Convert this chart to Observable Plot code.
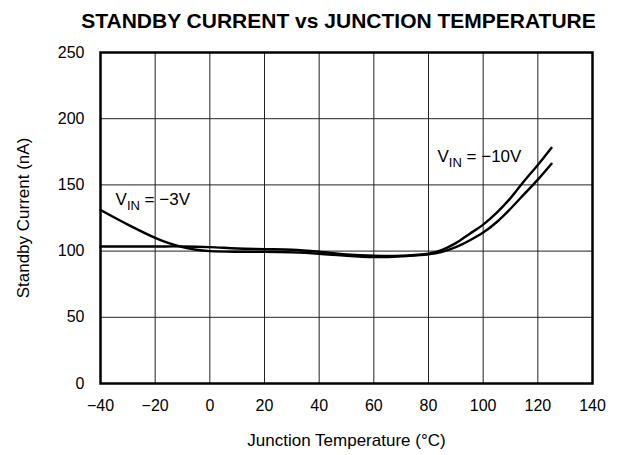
<!DOCTYPE html>
<html>
<head>
<meta charset="utf-8">
<script src="https://cdn.jsdelivr.net/npm/d3@7"></script>
<script src="https://cdn.jsdelivr.net/npm/@observablehq/plot@0.6"></script>
<style>
  html, body { margin: 0; padding: 0; background: #fff; }
  #title { width: 617px; height: 40px; box-sizing: border-box; padding-left: 60px; padding-top: 9px;
           text-align: center; font: bold 21px/24px "Liberation Sans", Arial, sans-serif; color: #000; white-space: nowrap; }
</style>
</head>
<body>
<div id="title">STANDBY CURRENT vs JUNCTION TEMPERATURE</div>
<div id="chart"></div>
<script>
const xTicks = [-40, -20, 0, 20, 40, 60, 80, 100, 120, 140];
const yTicks = [0, 50, 100, 150, 200, 250];

const tempVin3 = [-40, -30, -20, -15, -10, -5, 0, 10, 20, 30, 40, 50, 60, 65, 70, 80, 85, 90, 95, 100, 105, 110, 115, 120, 125];
const currVin3 = [131, 120, 110, 106, 103, 101, 100, 99.5, 99.5, 99, 98, 96.5, 95.5, 95.5, 96, 97.5, 99.5, 103, 108, 114, 122, 132, 143, 154, 166];

const tempVin10 = [-40, -20, -10, 0, 10, 20, 30, 40, 50, 60, 70, 80, 85, 90, 95, 100, 105, 110, 115, 120, 125];
const currVin10 = [103.5, 103.5, 103.5, 103, 102, 101.5, 101, 99.5, 97.5, 96.5, 96.5, 98, 101, 106, 113, 120, 129, 140, 153, 165, 178];

const labelText = ["V_IN = \u22123V", "V_IN = \u221210V"];
const labelX = [-34.5, 83.3];
const labelY = [139, 171.5];

const s3 = tempVin3.map((t, i) => ({t, c: currVin3[i]}));
const s10 = tempVin10.map((t, i) => ({t, c: currVin10[i]}));
const labels = labelText.map((s, i) => ({s, x: labelX[i], y: labelY[i]}));

const chart = Plot.plot({
  width: 617,
  height: 415,
  marginLeft: 100,
  marginRight: 25,
  marginTop: 12,
  marginBottom: 72,
  style: {fontFamily: "'Liberation Sans', Arial, sans-serif", fontSize: "17px", color: "#000", background: "#fff"},
  x: {domain: [-40, 140]},
  y: {domain: [0, 250]},
  marks: [
    Plot.gridX(xTicks, {stroke: "#222", strokeOpacity: 1, strokeWidth: 1}),
    Plot.gridY(yTicks, {stroke: "#222", strokeOpacity: 1, strokeWidth: 1}),
    Plot.line(s3, {x: "t", y: "c", stroke: "#000", strokeWidth: 2.4, curve: "catmull-rom"}),
    Plot.line(s10, {x: "t", y: "c", stroke: "#000", strokeWidth: 2.4, curve: "catmull-rom"}),
    Plot.frame({stroke: "#000", strokeWidth: 2.5}),
    Plot.axisX(xTicks, {tickSize: 0, tickPadding: 16, fontSize: 16, label: null}),
    Plot.axisY(yTicks, {tickSize: 0, tickPadding: 16, fontSize: 16, label: null}),
    Plot.axisX({tickSize: 0, ticks: [], label: "Junction Temperature (°C)", labelAnchor: "center", labelOffset: 62, labelArrow: "none", fontSize: 17}),
    Plot.axisY({tickSize: 0, ticks: [], label: "Standby Current (nA)", labelAnchor: "center", labelOffset: 84, labelArrow: "none", fontSize: 17}),
    Plot.text(labels, {x: "x", y: "y", text: "s", textAnchor: "start", fontSize: 17, fill: "#000", className: "vin"})
  ]
});
document.getElementById("chart").appendChild(chart);

// render subscripts in V_IN labels
chart.querySelectorAll("g.vin text").forEach(t => {
  const s = t.textContent;
  const m = s.match(/^V_IN(.*)$/);
  if (!m) return;
  while (t.firstChild) t.removeChild(t.firstChild);
  const ns = "http://www.w3.org/2000/svg";
  const a = document.createElementNS(ns, "tspan"); a.textContent = "V";
  const b = document.createElementNS(ns, "tspan"); b.textContent = "IN";
  b.setAttribute("font-size", "13"); b.setAttribute("dy", "5");
  const c = document.createElementNS(ns, "tspan"); c.textContent = m[1];
  c.setAttribute("dy", "-5");
  t.appendChild(a); t.appendChild(b); t.appendChild(c);
});
</script>
</body>
</html>
